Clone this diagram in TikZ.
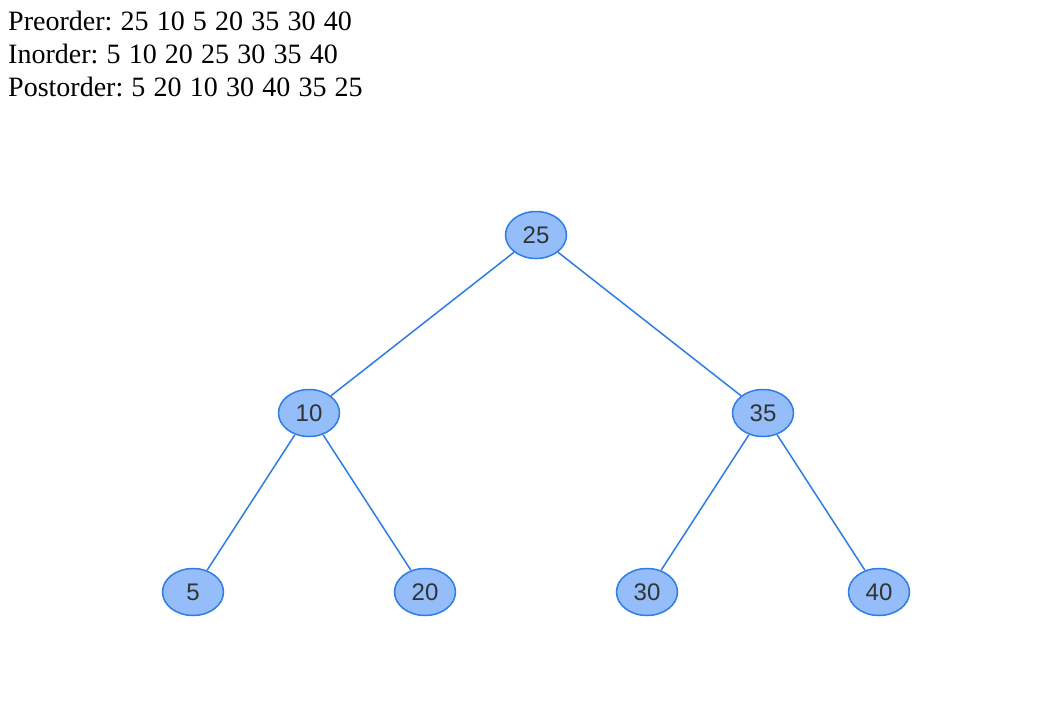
\documentclass[tikz,border=0pt]{standalone}
\usepackage{fontspec}
\setmainfont{Liberation Serif}
\newfontfamily\nodefont{Liberation Sans}
\usetikzlibrary{shapes.geometric}
\definecolor{nodefill}{HTML}{94BDF9}
\definecolor{nodeline}{HTML}{2E7DE6}
\definecolor{nodetext}{HTML}{333333}
% serif listing font with slightly wider word gaps
\newcommand\listfont{\fontsize{28}{28}\selectfont\frenchspacing\setlength{\spaceskip}{8.2pt}}
\begin{document}
\begin{tikzpicture}[x=1pt,y=-1pt,
  treenode/.style={ellipse,draw=nodeline,fill=nodefill,line width=1.5pt,
    minimum width=61pt,minimum height=47pt,inner sep=0pt,
    font=\nodefont\fontsize{24}{24}\selectfont,text=nodetext},
  edge/.style={draw=nodeline,line width=1.5pt},
  caption/.style={anchor=base west,inner sep=0pt,font=\listfont}]
\useasboundingbox[fill=white] (0,0) rectangle (1052,720);
% traversal listings
\node[caption] (pre) at (8,30) {Preorder: 25 10 5 20 35 30 40};
\node[caption] (in) at (8,63) {Inorder: 5 10 20 25 30 35 40};
\node[caption] (post) at (8,96) {Postorder: 5 20 10 30 40 35 25};
% tree
\node[treenode] (n25) at (536,235) {25};
\node[treenode] (n10) at (309,413) {10};
\node[treenode] (n35) at (763,413) {35};
\node[treenode] (n5) at (193,592) {5};
\node[treenode] (n20) at (425,592) {20};
\node[treenode] (n30) at (647,592) {30};
\node[treenode] (n40) at (879,592) {40};
\draw[edge] (n25) -- (n10);
\draw[edge] (n25) -- (n35);
\draw[edge] (n10) -- (n5);
\draw[edge] (n10) -- (n20);
\draw[edge] (n35) -- (n30);
\draw[edge] (n35) -- (n40);
\end{tikzpicture}
\end{document}
